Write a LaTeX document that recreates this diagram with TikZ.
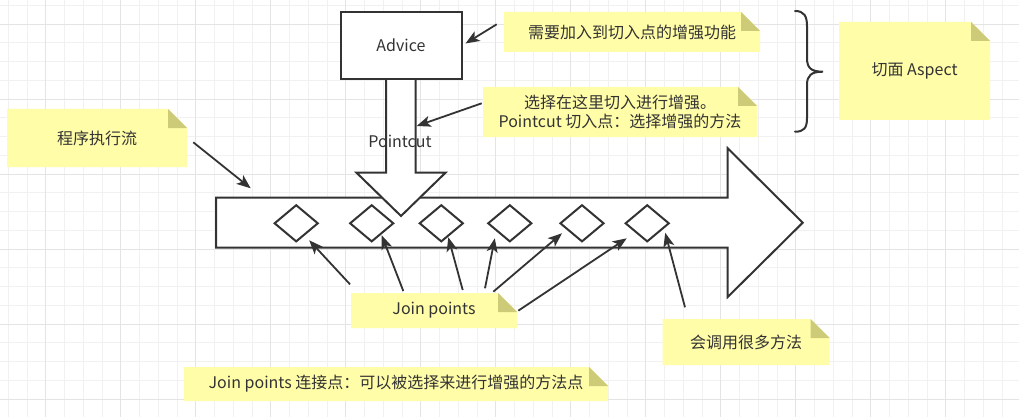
\documentclass[tikz,border=0pt]{standalone}
\usepackage{fontspec}
\newfontfamily\cjk{Noto Sans CJK SC}
\usetikzlibrary{arrows.meta,shapes.geometric}
\definecolor{inkgray}{HTML}{333333}
\definecolor{notefill}{HTML}{FFFDA8}
\definecolor{notefold}{HTML}{CDCB78}
\definecolor{gridminor}{HTML}{F1F1F1}
\definecolor{gridmajor}{HTML}{E4E4E4}
\tikzset{
  txt/.style={font=\cjk\fontsize{16}{18.5}\selectfont, text=inkgray},
  note/.style={txt, inner sep=0pt, align=center,
    path picture={
      \fill[notefill] (path picture bounding box.south west) -- (path picture bounding box.north west)
        -- ([xshift=-19pt]path picture bounding box.north east) -- ([yshift=-19pt]path picture bounding box.north east)
        -- (path picture bounding box.south east) -- cycle;
      \fill[notefold] ([xshift=-19pt]path picture bounding box.north east) -- ([xshift=-19pt,yshift=-19pt]path picture bounding box.north east)
        -- ([yshift=-19pt]path picture bounding box.north east) -- cycle;
    }},
  shapeline/.style={draw=inkgray, line width=2pt, fill=white},
  jp/.style={diamond, draw=inkgray, line width=2pt, fill=white, inner sep=0pt, minimum width=44pt, minimum height=37pt},
  pointer/.style={draw=inkgray, line width=1.8pt, -{Stealth[length=14pt,width=11pt,inset=3.5pt]}},
  minorline/.style={draw=gridminor, line width=0.8pt},
  majorline/.style={draw=gridmajor, line width=0.8pt},
}
\begin{document}
\begin{tikzpicture}[x=1pt,y=-1pt]
    \useasboundingbox (0,0) rectangle (1019,417);
    \fill[white] (0,0) rectangle (1019,417);
    % grid
    \foreach \i in {0,...,53} \draw[minorline] ({8.2+18.75*\i},0) -- ({8.2+18.75*\i},417);
    \foreach \i in {0,...,21} \draw[minorline] (0,{5.25+18.75*\i}) -- (1019,{5.25+18.75*\i});
    \foreach \i in {0,...,12} \draw[majorline] ({45.7+75*\i},0) -- ({45.7+75*\i},417);
    \foreach \i in {0,...,5} \draw[majorline] (0,{24+75*\i}) -- (1019,{24+75*\i});

    % program flow and pointcut arrows
    \draw[shapeline] (216,197.7) -- (727.7,197.7) -- (727.7,148.3) -- (802.7,222.7) -- (727.7,297) -- (727.7,247.7) -- (216,247.7) -- cycle;
    \draw[shapeline] (386,80) -- (386,172.7) -- (356.5,172.7) -- (401,216) -- (445.5,172.7) -- (415.5,172.7) -- (415.5,80);
    \node[shapeline, txt, minimum width=121pt, minimum height=67pt, inner sep=0pt] (advice) at (401,45.5) {Advice};
    \node[txt] (pointcut) at (400,141.7) {Pointcut};
    \foreach \x [count=\i] in {296.2,371.7,441.3,509.8,582,647.2}
        \node[jp] (jp\i) at (\x,223.3) {};

    % notes
    \node[note, minimum width=180pt, minimum height=58pt] (flow) at (97,138) {程序执行流};
    \node[note, minimum width=256pt, minimum height=40pt] (need) at (632,32) {需要加入到切入点的增强功能};
    \node[note, minimum width=274pt, minimum height=50pt] (choose) at (620,112) {选择在这里切入进行增强。\\Pointcut 切入点：选择增强的方法};
    \node[note, minimum width=151pt, minimum height=98pt] (aspect) at (914.5,71) {切面 Aspect};
    \node[note, minimum width=166pt, minimum height=35pt] (join) at (434,310.5) {Join points};
    \node[note, minimum width=167pt, minimum height=46pt] (calls) at (746,342) {会调用很多方法};
    \node[note, minimum width=424pt, minimum height=34pt] (jpdef) at (396,384) {Join points 连接点：可以被选择来进行增强的方法点};

    % brace
    \draw[inkgray, line width=2pt, line cap=round] (795,11) .. controls (804,11) and (807,16) .. (807,26) -- (807,58)
        .. controls (807,68) and (811,71.7) .. (823,71.7) .. controls (811,71.7) and (807,75.5) .. (807,85) -- (807,118)
        .. controls (807,128) and (804,131.7) .. (795,131.7);

    % pointers
    \coordinate (flowtail) at (193.3,142.3);
    \coordinate (flowtip) at (250.7,188.3);
    \coordinate (needtail) at (496.7,24.3);
    \coordinate (choosetail) at (481.7,103.3);
    \coordinate (choosetip) at (416.7,126);
    \coordinate (j1) at (350,284.3);
    \coordinate (j2) at (403.3,291);
    \coordinate (j3) at (462.7,290);
    \coordinate (j4) at (485,288.3);
    \coordinate (j5) at (493.3,291.7);
    \coordinate (j6) at (518.3,310.7);
    \coordinate (c7) at (685,307.3);
    \draw[pointer] (flowtail) -- (flowtip);
    \draw[pointer] (needtail) -- ([shift={(3,-2)}]advice.east);
    \draw[pointer] (choosetail) -- (choosetip);
    \draw[pointer] (j1) -- ([shift={(13,17)}]jp1.center);
    \draw[pointer] (j2) -- ([shift={(10,12)}]jp2.center);
    \draw[pointer] (j3) -- ([shift={(7,14)}]jp3.center);
    \draw[pointer] (j4) -- ([shift={(-15,15)}]jp4.center);
    \draw[pointer] (j5) -- ([shift={(-20,10)}]jp5.center);
    \draw[pointer] (j6) -- ([shift={(-20.5,15)}]jp6.center);
    \draw[pointer] (c7) -- ([shift={(18,9.5)}]jp6.center);
\end{tikzpicture}
\end{document}
